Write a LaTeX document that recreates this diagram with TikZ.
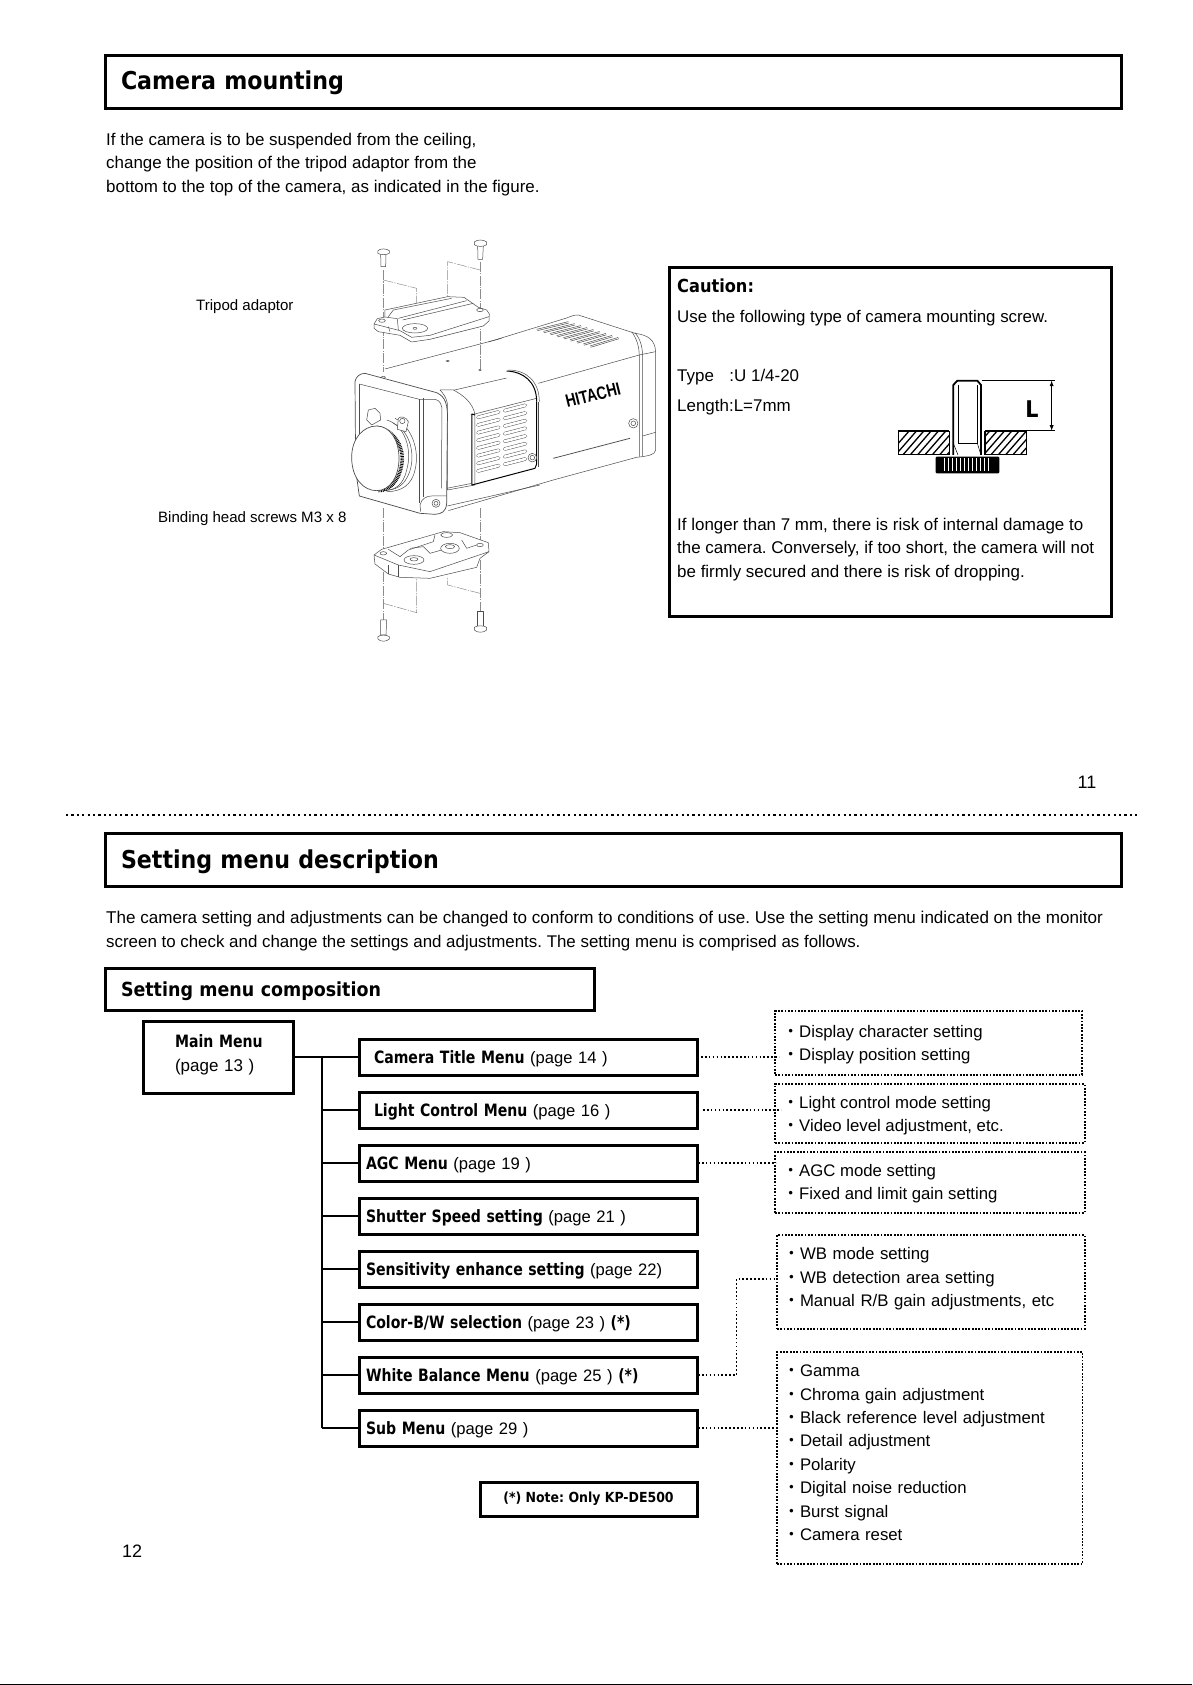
\documentclass[tikz,border=0pt]{standalone}
\usepackage{fontspec}
\setmainfont{Liberation Sans}
\frenchspacing
\newfontfamily\hdfont{DejaVu Sans Condensed}
\newfontfamily\mbfont[FakeStretch=0.92]{DejaVu Sans Condensed}
\newfontfamily\cjkfont{Noto Sans CJK JP}
\newcommand{\hdb}{\hdfont\bfseries}
\newcommand{\fs}[2]{\fontsize{#1}{#2}\selectfont}
\newcommand{\dt}{\makebox[17pt][c]{\cjkfont ・}}
\tikzset{
 headbox/.style={draw,line width=3pt,outer sep=0pt,inner xsep=16pt,inner ysep=0pt,align=left,font=\hdb\fs{24.6}{30}},
 subbox/.style={draw,line width=3pt,outer sep=0pt,inner xsep=16pt,inner ysep=0pt,align=left,font=\hdb\fs{19.4}{24}},
 menubox/.style={draw,line width=3pt,outer sep=0pt,inner xsep=7pt,inner ysep=0pt,text width=324pt,minimum height=36pt,text height=13pt,text depth=0pt,align=left,font=\fs{16.6}{20}},
 infobox/.style={draw,line width=1.8pt,dash pattern=on 1.8pt off 1.5pt,outer sep=0pt,inner xsep=7pt,inner ysep=0pt,align=left,font=\fs{16.75}{23.4}},
 infotext/.style={anchor=west,inner sep=0pt,align=left,font=\fs{16.75}{22.9}},
 dotline/.style={line width=1.6pt,dash pattern=on 1.6pt off 2.3pt},
 branch/.style={line width=2pt},
 body/.style={anchor=west,inner sep=0pt,text height=15.6pt,text depth=4pt,font=\fs{16.95}{20}},
 small/.style={anchor=west,inner sep=0pt,text height=14.5pt,text depth=3pt,font=\fs{15.05}{18}},
 cam/.style={draw=black!70,line width=0.5pt,line join=round},
 camw/.style={cam,fill=white},
 camt/.style={draw=black,line width=1pt,line join=round},
 dd/.style={draw=black!45,line width=0.5pt,dash pattern=on 10pt off 1.3pt on 1.3pt off 1.3pt},
}
\newcommand{\bb}[1]{{\mbfont\bfseries\fontsize{17}{20}\selectfont #1}}
\begin{document}
\begin{tikzpicture}[x=1pt,y=-1pt]
\useasboundingbox (0,0) rectangle (1192,1685);
% ---------- page 11 ----------
\node[headbox,minimum width=1016pt,minimum height=53pt,text width=984pt] (head1) at (613,82.5) {Camera mounting};
\node[body] (p1a) at (106,140) {If the camera is to be suspended from the ceiling,};
\node[body] (p1b) at (106,163) {change the position of the tripod adaptor from the};
\node[body] (p1c) at (106,187) {bottom to the top of the camera, as indicated in the figure.};
\node[small] (tripod) at (196,304.5) {Tripod adaptor};
\node[small] (binding) at (158,517) {Binding head screws M3 x 8};
% camera: rear body, top surface
\begin{scope}[shift={(320,220)},x=0.3333pt,y=-0.3333pt]
 \fill[white] (190,450) -- (740,290) -- (770,285) -- (960,340) -- (1005,380) -- (1005,700) -- (950,710) -- (385,870) -- cycle;
 \draw[cam] (195,447) -- (545,355);
 \draw[cam] (505,366) -- (740,294) .. controls (755,288) and (765,284) .. (775,285) -- (945,340) .. controls (985,345) and (1005,360) .. (1007,395) -- (1007,690) .. controls (1005,705) and (985,708) .. (950,712) -- (700,780) -- (385,872);
 \draw[cam] (935,335) .. controls (950,355) and (958,380) .. (958,410) -- (958,710);
 \draw[cam] (945,338) .. controls (960,355) and (968,380) .. (968,410) -- (968,708);
 \draw[cam] (655,490) -- (958,405) -- (1007,395);
 \draw[cam,line width=0.75pt] (700,715) -- (930,655);
 \draw[cam] (968,648) -- (1007,637);
 \foreach \i in {0,...,8} {
  \draw[cam] ({650+20*\i},{328+6.25*\i}) -- ({745+18.75*\i},{305+5.9*\i});
  \draw[cam] ({652+20*\i},{332+6.25*\i}) -- ({747+18.75*\i},{309+5.9*\i});
 }
 \draw[cam] (940,610) circle (14);
 \draw[cam] (940,610) circle (7);
 % leader lines
 \draw[dd] (190,150) -- (190,455);
 \draw[dd] (190,180) -- (290,205) -- (290,320);
 \draw[dd] (480,125) -- (480,450);
 \draw[dd] (480,150) -- (383,125) -- (383,230);
 % screws
 \draw[camw] (182,103) -- (183,140) -- (197,140) -- (198,103);
 \draw[camw] (174,92) .. controls (180,85) and (200,85) .. (208,92) -- (208,100) .. controls (200,105) and (180,105) .. (174,100) -- cycle;
 \draw[camw] (473,78) -- (474,118) -- (488,118) -- (490,78);
 \draw[camw] (463,66) .. controls (470,58) and (492,58) .. (500,66) -- (500,74) .. controls (492,81) and (470,81) .. (463,74) -- cycle;
 % top adaptor
 \draw[camw] (162,312) -- (172,296) -- (195,291) -- (195,270) -- (383,230) -- (432,232) -- (475,262) -- (500,270) -- (508,282) -- (507,303) -- (490,318) -- (330,358) -- (275,366) -- (240,346) -- (175,335) -- (162,325) -- cycle;
 \draw[cam] (195,291) -- (232,296) -- (235,330);
 \draw[cam] (235,295) -- (440,242);
 \draw[cam] (248,300) -- (460,250);
 \draw[cam] (205,290) -- (220,270) -- (395,235);
 \draw[cam] (162,312) -- (240,332) -- (275,352) -- (330,346) -- (507,290);
 \draw[cam] (285,325) ellipse (38 and 14);
 \draw[cam] (285,325) ellipse (6 and 3);
 \draw[cam] (480,270) ellipse (10 and 5);
 \draw[cam] (186,302) ellipse (10 and 5);
 \draw[cam] (205,320) -- (210,335);
 \draw[cam] (383,423) ellipse (5 and 2);
 \draw[cam] (480,450) ellipse (4 and 2);
 \draw[cam] (190,472) ellipse (6 and 3);
\end{scope}
\node[rotate=14,inner sep=0pt,font=\fs{18}{20}\bfseries] (brand) at (593,395) {\scalebox{0.78}[1]{HITACHI}};
% camera: side panel and front
\begin{scope}[shift={(340,370)},x=0.3333pt,y=-0.3333pt]
 \draw[cam] (335,62) -- (500,24);
 \draw[camw] (300,60) -- (340,60) .. controls (370,75) and (400,100) .. (405,135) -- (405,345) -- (322,360) -- (322,100) .. controls (320,85) and (310,70) .. (300,60) -- cycle;
 \draw[cam] (392,135) -- (590,85);
 \draw[camt] (405,135) -- (396,132) -- (396,345) -- (585,295);
 \draw[cam] (320,355) -- (396,340);
 \draw[cam] (322,408) -- (600,345);
 \draw[camt] (590,95) -- (590,282) -- (585,295);
 \draw[cam] (596,95) -- (596,290);
 \draw[camt] (500,3) .. controls (550,5) and (590,35) .. (590,95);
 \draw[cam] (505,0) .. controls (560,0) and (598,35) .. (598,95);
 \foreach \i in {0,...,7} {
  \draw[black!70,line width=3.5pt,line cap=round] (414,{142+23*\i}) -- (476,{126+23*\i});
  \draw[white,line width=2.6pt,line cap=round] (414,{142+23*\i}) -- (476,{126+23*\i});
  \draw[black!70,line width=3.5pt,line cap=round] (494,{122+23*\i}) -- (556,{106+23*\i});
  \draw[white,line width=2.6pt,line cap=round] (494,{122+23*\i}) -- (556,{106+23*\i});
 }
 \draw[camw] (577,263) circle (13);
 \draw[cam] (577,263) circle (7);
 % front
 \draw[camw,line width=0.7pt] (45,35) .. controls (47,20) and (60,10) .. (75,10) -- (290,68) .. controls (315,80) and (325,100) .. (322,160) -- (320,400) .. controls (318,425) and (305,432) .. (285,433) -- (240,430) -- (58,378) -- (47,300) -- cycle;
 \draw[cam] (58,42) -- (238,88) -- (285,88) .. controls (300,90) and (307,105) .. (306,125) -- (304,355);
 \draw[cam] (58,42) -- (58,200);
 \draw[cam] (238,88) -- (238,400);
 \draw[cam] (250,85) -- (250,380);
 % lens
 \draw[cam] (165,145) .. controls (215,170) and (240,240) .. (225,300) .. controls (215,345) and (185,365) .. (140,365);
 \draw[cam] (160,160) .. controls (205,180) and (225,240) .. (212,295) .. controls (200,340) and (175,358) .. (145,360);
 \draw[cam] (140,150) .. controls (195,165) and (218,240) .. (200,300) .. controls (190,345) and (165,362) .. (130,362);
 \draw[camw] (85,120) -- (105,115) -- (120,130) -- (122,150) -- (95,165) -- (80,150) -- cycle;
 \draw[camw] (175,145) .. controls (180,138) and (200,140) .. (205,155) -- (198,185) -- (172,178) -- cycle;
 \draw[cam] (187,153) circle (8);
 \draw[black,line width=3.5pt,dash pattern=on 0.8pt off 0.8pt] (110,172) .. controls (165,180) and (195,235) .. (185,285) .. controls (178,330) and (150,362) .. (115,362);
 \draw[camw,line width=0.7pt] (110,168) .. controls (70,168) and (35,205) .. (35,262) .. controls (35,325) and (70,362) .. (110,362) .. controls (150,362) and (177,320) .. (177,265) .. controls (177,210) and (150,168) .. (110,168) -- cycle;
 \draw[cam] (240,405) .. controls (245,385) and (260,378) .. (275,378) -- (320,378);
 \draw[cam] (240,405) -- (242,425);
 \draw[camw] (288,400) circle (12);
 \draw[cam] (288,400) circle (6);
\end{scope}
\begin{scope}[shift={(320,440)},x=0.3333pt,y=-0.3333pt]
 \draw[dd] (190,205) -- (190,332);
 \draw[dd] (480,205) -- (480,310);
 \draw[dd] (190,395) -- (190,540);
 \draw[dd] (190,490) -- (290,518) -- (290,410);
 \draw[dd] (480,360) -- (480,515);
 \draw[dd] (480,460) -- (383,435) -- (383,410);
 \draw[camw] (162,345) -- (185,328) -- (370,275) -- (420,278) -- (505,308) -- (507,335) -- (480,355) -- (470,382) -- (330,415) -- (240,412) -- (205,402) -- (165,372) -- cycle;
 \draw[cam] (162,345) -- (235,375) -- (330,395) -- (507,335);
 \draw[cam] (235,375) -- (235,410);
 \draw[cam] (205,375) -- (205,402);
 \draw[cam] (205,328) -- (240,350) -- (265,330) -- (340,305) -- (345,285);
 \draw[cam] (425,300) -- (440,325) -- (470,315);
 \draw[cam] (270,325) -- (310,320) -- (330,340) -- (365,330);
 \draw[camw] (390,325) ellipse (28 and 15);
 \draw[cam] (390,320) ellipse (14 and 6);
 \draw[camw] (282,360) ellipse (30 and 13);
 \draw[cam] (282,358) ellipse (12 and 5);
 \draw[cam] (380,285) ellipse (18 and 7);
 \draw[cam] (190,340) ellipse (10 and 5);
 \draw[cam] (480,315) ellipse (10 and 5);
 \draw[camw] (182,540) -- (182,585) -- (198,585) -- (200,540) -- cycle;
 \draw[camw] (174,590) .. controls (180,584) and (200,584) .. (208,590) -- (208,597) .. controls (200,606) and (180,606) .. (174,597) -- cycle;
 \draw[camw] (472,515) -- (472,560) -- (490,560) -- (490,515) -- cycle;
 \draw[camw] (463,562) .. controls (470,556) and (492,556) .. (500,562) -- (500,570) .. controls (492,579) and (470,579) .. (463,570) -- cycle;
\end{scope}
% caution box
\node[draw,line width=3pt,outer sep=0pt,minimum width=442pt,minimum height=348pt] (caution) at (890,442) {};
\node[body,font=\hdb\fs{18}{20}] (ct) at (677,287) {Caution:};
\node[body,font=\fs{16.85}{20}] (c1) at (677,317) {Use the following type of camera mounting screw.};
\node[body] (c2) at (677,376) {Type\hspace{15.5pt}:U 1/4-20};
\node[body] (c3) at (677,406) {Length:L=7mm};
\node[body] (c4) at (677,524.5) {If longer than 7 mm, there is risk of internal damage to};
\node[body] (c5) at (677,548) {the camera. Conversely, if too short, the camera will not};
\node[body] (c6) at (677,572) {be firmly secured and there is risk of dropping.};
% screw figure
\begin{scope}[shift={(870,360)},x=0.3333pt,y=-0.3333pt]
 \begin{scope}
  \clip (85,215) rectangle (238,283) (345,215) rectangle (470,283);
  \foreach \i in {0,...,20} \draw[line width=1.3pt] ({50+22*\i},290) -- ({120+22*\i},210);
 \end{scope}
 \draw[line width=1.6pt] (238,213) -- (85,213) -- (85,283) -- (238,283) -- (238,213);
 \draw[line width=1.6pt] (345,213) -- (470,213) -- (470,283) -- (345,283) -- (345,213);
 \draw[line width=1.8pt] (250,285) -- (250,75) -- (262,62) -- (322,62) -- (333,75) -- (333,285);
 \draw[line width=1pt] (264,75) -- (264,250) -- (322,250) -- (322,75);
 \draw[line width=0.5pt] (250,250) -- (264,285) (322,250) -- (333,285);
 \fill[rounded corners=1pt] (197,290) rectangle (388,340);
 \foreach \i in {0,...,11} \fill[white] ({222+12*\i},293) rectangle ({226+12*\i},332);
 \draw[line width=0.9pt] (335,60) -- (555,60) (470,212) -- (555,212);
 \draw[line width=0.9pt,<->,>=latex] (545,62) -- (545,212);
\end{scope}
\node[inner sep=0pt,font=\hdb\fs{23}{26}] (Llabel) at (1032,409) {L};
\node[body,anchor=center,font=\fs{18}{20}] (pg11) at (1087,782.5) {11};
% separator
\coordinate (sepa) at (66,815);
\coordinate (sepb) at (1140,815);
\draw[line width=2.2pt,dash pattern=on 2.2pt off 3.2pt] (sepa) -- (sepb);
% ---------- page 12 ----------
\node[headbox,minimum width=1016pt,minimum height=53pt,text width=984pt,text height=22.4pt,text depth=5.2pt] (head2) at (613,859.5) {Setting menu description};
\node[body,font=\fs{17.06}{20}] (p2a) at (106,918) {The camera setting and adjustments can be changed to conform to conditions of use. Use the setting menu indicated on the monitor};
\node[body,font=\fs{16.9}{20}] (p2b) at (106,941.5) {screen to check and change the settings and adjustments. The setting menu is comprised as follows.};
\node[subbox,minimum width=489pt,minimum height=42pt,text width=457pt,text height=19.4pt,text depth=4.2pt] (comp) at (349.5,989) {Setting menu composition};
\node[draw,line width=3pt,outer sep=0pt,minimum width=150pt,minimum height=72pt,inner xsep=32pt,inner ysep=0pt,text width=86pt,align=left,font=\fs{17}{24}] (main) at (218,1057) {\mbox{\bb{Main Menu}}\\\mbox{(page 13 )}\\[-16pt]\mbox{}};
\node[menubox] (m1) at (528,1057) {\hspace*{8pt}\bb{Camera Title Menu} (page 14 )};
\node[menubox] (m2) at (528,1110) {\hspace*{8pt}\bb{Light Control Menu} (page 16 )};
\node[menubox] (m3) at (528,1163) {\bb{AGC Menu} (page 19 )};
\node[menubox] (m4) at (528,1216) {\bb{Shutter Speed setting} (page 21 )};
\node[menubox] (m5) at (528,1269) {\bb{Sensitivity enhance setting} (page 22)};
\node[menubox] (m6) at (528,1322) {\bb{Color-B/W selection} (page 23 ) \bb{(*)}};
\node[menubox] (m7) at (528,1375) {\bb{White Balance Menu} (page 25 ) \bb{(*)}};
\node[menubox] (m8) at (528,1428) {\bb{Sub Menu} (page 29 )};
\node[draw,line width=3pt,outer sep=0pt,minimum width=217pt,minimum height=34pt,inner sep=0pt,font=\hdb\fs{13.9}{17}] (note) at (588.5,1499) {(*) Note: Only KP-DE500};
\node[body,font=\fs{18}{20}] (pg12) at (122,1552) {12};
% info boxes
\node[infobox,minimum width=307pt,minimum height=64pt] (d1) at (928.5,1043) {};
\node[infotext] (d1t) at (782,1044.5) {\dt Display character setting\\\dt Display position setting};
\node[infobox,minimum width=309.6pt,minimum height=59pt] (d2) at (929.8,1113.5) {};
\node[infotext] (d2t) at (782,1115.6) {\dt Light control mode setting\\\dt Video level adjustment, etc.};
\node[infobox,minimum width=309.6pt,minimum height=61pt] (d3) at (929.8,1182.5) {};
\node[infotext] (d3t) at (782,1184) {\dt AGC mode setting\\\dt Fixed and limit gain setting};
\node[infobox,minimum width=307.6pt,minimum height=94pt,inner xsep=6pt,text width=295.6pt] (d4) at (930.8,1282) {\dt WB mode setting\\\dt WB detection area setting\\\dt Manual R/B gain adjustments, etc\\[-14pt]\mbox{}};
\node[infobox,minimum width=305.5pt,minimum height=212pt,inner xsep=6pt,text width=293.5pt] (d5) at (929.75,1458) {\dt Gamma\\\dt Chroma gain adjustment\\\dt Black reference level adjustment\\\dt Detail adjustment\\\dt Polarity\\\dt Digital noise reduction\\\dt Burst signal\\\dt Camera reset\\[-13pt]\mbox{}};
% tree
\coordinate (trunk) at (322,1057);
\draw[branch] (main.east) -- (m1.west);
\draw[branch] (trunk) -- (trunk |- m8.west);
\foreach \m in {m2,m3,m4,m5,m6,m7,m8} \draw[branch] (trunk |- \m.west) -- (\m.west);
% dotted connectors
\draw[dotline] ([xshift=4pt]m1.east) -- ([xshift=4pt]m1.east -| d1.west);
\draw[dotline] ([xshift=6pt]m2.east) -- ([xshift=6pt]m2.east -| d2.west);
\draw[dotline] ([xshift=1pt]m3.east) -- ([xshift=1pt]m3.east -| d3.west);
\coordinate (wbj) at (736.5,1279);
\draw[dotline] ([xshift=1pt]m7.east) -| (wbj) -- (wbj -| d4.west);
\draw[dotline] ([xshift=1pt]m8.east) -- ([xshift=1pt]m8.east -| d5.west);
% bottom rule
\coordinate (ba) at (0,1684.4);
\coordinate (bb) at (1192,1684.4);
\draw[line width=1.2pt] (ba) -- (bb);
\end{tikzpicture}
\end{document}
